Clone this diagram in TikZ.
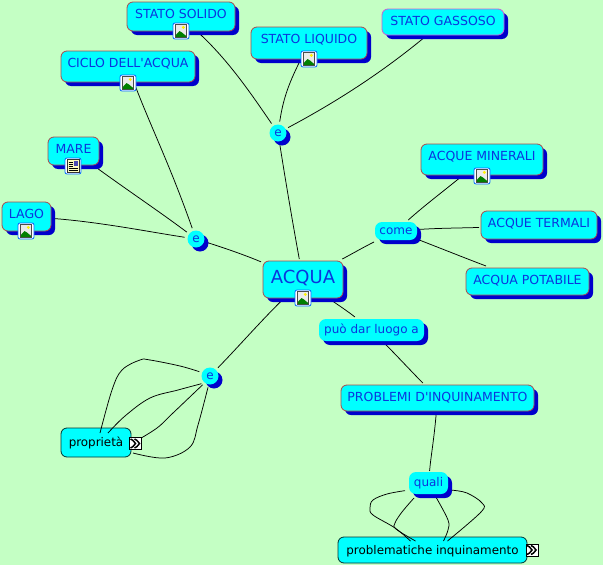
\documentclass[tikz,border=0pt]{standalone}
\usepackage{fontspec}
\setmainfont{DejaVu Sans}
\usepackage{tikz}
\usetikzlibrary{shadows,backgrounds}
\definecolor{mapbg}{HTML}{C4FFC4}
\definecolor{mapbox}{HTML}{00FFFF}
\definecolor{mapshadow}{HTML}{0000CC}
\definecolor{maptext}{HTML}{0B35DD}
\definecolor{mapedge}{HTML}{A84A50}
\definecolor{mapedgepink}{HTML}{C860D8}
\tikzset{
	deep/.style={drop shadow={shadow xshift=4pt,shadow yshift=-4pt,fill=mapshadow,opacity=1}},
	concept/.style={deep,draw=mapedge,fill=mapbox,rounded corners=6pt,text=maptext,font=\fontsize{12.5}{14}\selectfont,
		inner xsep=2pt,inner ysep=7pt,text height=9pt,outer sep=2pt,line width=0.8pt},
	linker/.style={deep,fill=mapbox,rounded corners=7pt,text=maptext,font=\fontsize{12}{14}\selectfont,
		inner xsep=2pt,inner ysep=5pt,text height=9pt,text depth=3pt,outer sep=2pt},
	dotlink/.style={deep,circle,fill=mapbox,text=maptext,font=\fontsize{12}{14}\selectfont,
		inner sep=0pt,minimum size=17pt,outer sep=3pt},
	plainbox/.style={draw=black!80!mapbox,fill=mapbox,rounded corners=6pt,text=black,font=\fontsize{11.9}{14}\selectfont,
		inner xsep=2pt,inner ysep=6pt,text height=9pt,text depth=1pt,line width=0.8pt,outer sep=0pt},
	link/.style={black,line width=0.75pt},
	imgicon/.pic={
		\draw[blue!60!cyan,fill=white,rounded corners=2pt,line width=0.8pt] (-8,-8) rectangle (8,8);
		\draw[black!70,fill=black!8,line width=0.6pt] (-5.5,-6.5) rectangle (5.5,6.5);
		\fill[yellow] (2.3,-3.6) circle (1.6);
		\fill[green!50!black] (-5.2,6.2) -- (-5.2,4) -- (-1.5,0) -- (1,1.5) -- (5.2,5) -- (5.2,6.2) -- cycle;
	},
	docicon/.pic={
		\draw[blue!60!cyan,fill=white,rounded corners=2pt,line width=0.8pt] (-8,-8) rectangle (8,8);
		\draw[black!80,fill=yellow!25,line width=0.6pt] (-6,-6.5) rectangle (6,6.5);
		\fill[blue!40!gray] (0.5,-5) rectangle (4.5,-0.5);
		\foreach \l in {-4,-2,0}{
			\draw[black,line width=0.7pt] (-4.5,\l) -- (-0.5,\l);
		}
		\foreach \l in {2,4}{
			\draw[black,line width=0.7pt] (-4.5,\l) -- (4.5,\l);
		}
	},
	moreicon/.pic={
		\draw[black,fill=white,line width=0.8pt] (-6,-6) rectangle (6,6);
		\draw[black,line width=1.5pt] (-5,-4.5) .. controls (-1,-3) and (-1,0) .. (0,0) .. controls (-1,0) and (-1,3) .. (-5,4.5);
		\draw[black,line width=1.5pt] (-1,-4.5) .. controls (3,-3) and (3,0) .. (4,0) .. controls (3,0) and (3,3) .. (-1,4.5);
	}
}
\begin{document}
\begin{tikzpicture}[x=1pt,y=-1pt]
	\useasboundingbox (0,0) rectangle (603,565);
	\foreach \n/\x/\y/\w/\d/\txt in
	{solido/181/16.5/108/6/STATO SOLIDO, liquido/309/43/116/9/STATO LIQUIDO,
	ciclo/128/66.5/134/8/CICLO DELL\textquotesingle ACQUA, mare/73.5/151/51/5/MARE, lago/26.5/216.5/49/6/LAGO,
	minerali/482/159.5/122/8/ACQUE MINERALI, termali/539/225/116/5/ACQUE TERMALI, potabile/527.5/281.5/123/4/ACQUA POTABILE,
	problemi/437.5/398/193/3/PROBLEMI D\textquotesingle INQUINAMENTO}{
		\node[concept,minimum width=\w pt,text depth=\d pt] (\n) at (\x,\y) {\txt};
	}
	\node[concept,draw=mapedgepink,minimum width=122pt,text depth=3pt] (gassoso) at (443,22) {STATO GASSOSO};
	\node[concept,minimum width=80pt,inner ysep=9pt,text height=13pt,text depth=6pt,font=\fontsize{18}{20}\selectfont] (acqua) at (303,279.5) {ACQUA};
	
	% linking phrases
	\foreach \n/\x/\y/\w/\h/\txt in
	{puo/371.5/330/105/22/può dar luogo a, come/396/231/42/18/come}{
		\node[linker,minimum width=\w pt,minimum height=\h pt,inner ysep=3pt] (\n) at (\x,\y) {\txt};
	}
	\node[linker,minimum width=39pt,minimum height=22pt,inner ysep=3pt,outer sep=4pt] (quali) at (428.5,483) {quali};
	\foreach \n/\x/\y in
	{etop/278/133, eleft/196/239, edown/210/376}{
		\node[dotlink] (\n) at (\x,\y) {e};
	}
	
	\node[plainbox,minimum width=70pt,minimum height=29pt] (prop) at (96,442.5) {proprietà};
	\node[plainbox,minimum width=189pt,minimum height=26pt] (probl) at (432.5,550) {problematiche inquinamento};
	
	% connectors go under the boxes
	\begin{pgfonlayer}{background}
		\fill[mapbg] (0,0) rectangle (603,565);
		\foreach \a/\px/\py/\qx/\qy/\b in
		{solido/228/60/250/92/etop, liquido/288/85/283/100/etop, gassoso/385/70/340/100/etop, etop/287/190/294/230/acqua,
		ciclo/150/125/170/165/eleft, mare/130/192/160/212/eleft, lago/100/222/150/232/eleft, eleft/215/245/240/253/acqua,
		acqua/350/255/362/248/come, come/425/205/445/190/minerali, come/440/228/465/228/termali, come/445/250/470/260/potabile,
		acqua/260/322/240/345/edown, acqua/338/305/346/310/puo, puo/398/357/412/372/problemi}{
			\draw[link] (\a) .. controls (\px,\py) and (\qx,\qy) .. (\b);
		}
		\draw[link,shorten >=-3pt] (problemi) .. controls (434,440) and (431,455) .. (quali);
	\end{pgfonlayer}
	
	% these end on the box itself
	\draw[link] plot[smooth,tension=0.6] coordinates {(edown.158) (180,366) (150,360) (140,360) (122,370) (112,390) ([xshift=4pt,yshift=-5pt]prop.north)};
	\draw[link] plot[smooth,tension=0.6] coordinates {(edown.222) (178,390) (150,398) (125,416) ([xshift=12pt,yshift=-5pt]prop.north)};
	\draw[link] plot[smooth,tension=0.6] coordinates {(edown.230) (173,413) (157,428) ([xshift=5pt,yshift=-13pt]prop.north east)};
	\draw[link] plot[smooth,tension=0.6] coordinates {(edown.260) (198,425) (190,447) (165,458) ([xshift=2pt,yshift=4pt]prop.south east)};
	\draw[link] plot[smooth,tension=0.6] coordinates {(quali.198) (387,494) (373,500) (370,508) (373,515) (395,528) ([xshift=-22pt,yshift=-4pt]probl.north)};
	\draw[link] plot[smooth,tension=0.6] coordinates {(quali.226) (402,512) (395,523) (396,529) ([xshift=-17pt,yshift=-4pt]probl.north)};
	\draw[link] plot[smooth,tension=0.6] coordinates {(quali.298) (448,520) (448,530) ([xshift=11pt,yshift=-4pt]probl.north)};
	\draw[link] plot[smooth,tension=0.6] coordinates {(quali.343) (467,493) (482,503) (481,512) ([xshift=15pt,yshift=-4pt]probl.north)};
	
	% little icons
	\foreach \x/\y in
	{181/31, 309/59, 128/83, 26/231, 482/176, 303/298}{
		\pic at (\x,\y) {imgicon};
	}
	\pic at (73,166) {docicon};
	\pic at (135.5,443.5) {moreicon};
	\pic at (532,550) {moreicon};
\end{tikzpicture}
\end{document}
